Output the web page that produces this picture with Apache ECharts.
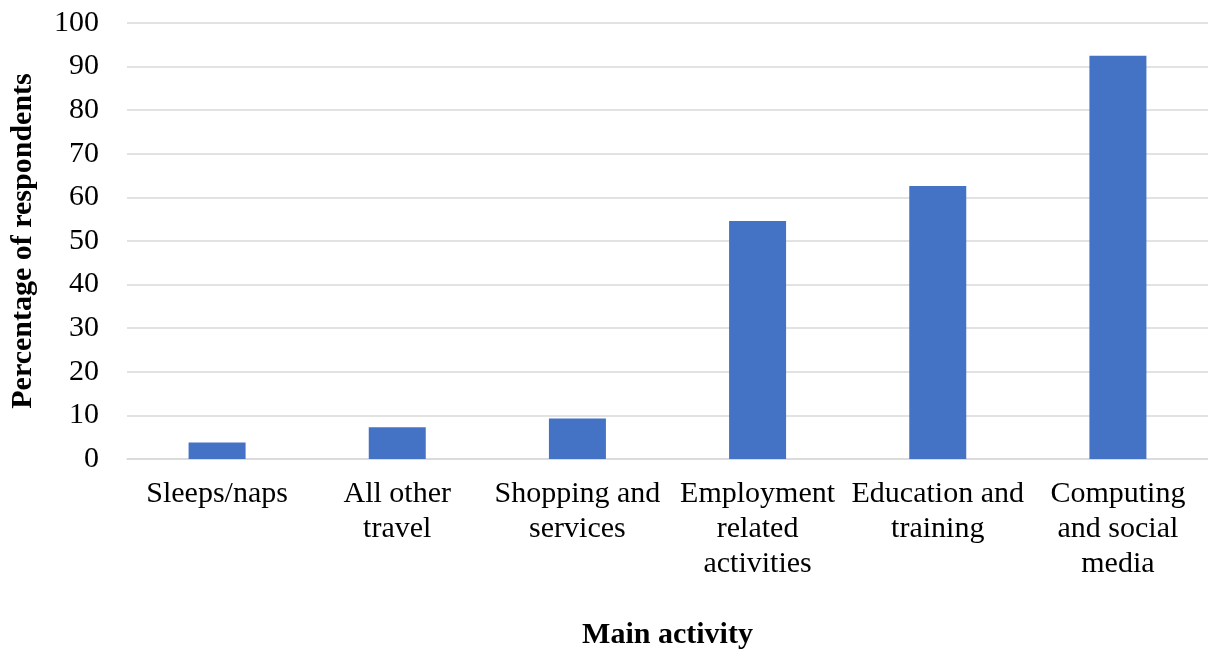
<!DOCTYPE html>
<html><head><meta charset="utf-8">
<script src="https://cdn.jsdelivr.net/npm/echarts@6/dist/echarts.min.js"></script>
<style>html,body{margin:0;padding:0;background:#fff}#c{width:1208px;height:655px}</style>
</head><body><div id="c"></div>
<script>
const categories = ["Sleeps/naps", "All other\ntravel", "Shopping and\nservices", "Employment\nrelated\nactivities", "Education and\ntraining", "Computing\nand social\nmedia"];
const values = [3.8, 7.3, 9.3, 54.6, 62.6, 92.5];
const yTicks = {min: 0, max: 100, interval: 10};
const FONT = "Liberation Serif";
const chart = echarts.init(document.getElementById('c'), null, {renderer: 'canvas'});
chart.setOption({
  animation: false,
  grid: {left: 123, right: -1, top: 23, bottom: 193},
  xAxis: {
    type: 'category', data: categories,
    name: 'Main activity', nameLocation: 'middle', nameGap: 161,
    nameTextStyle: {fontFamily: FONT, fontWeight: 'bold', fontSize: 30, color: '#000'},
    axisLine: {lineStyle: {color: '#d9d9d9', width: 1.5}},
    axisTick: {show: false},
    axisLabel: {fontFamily: FONT, fontSize: 30, color: '#000', margin: 18, lineHeight: 35, interval: 0}
  },
  yAxis: {
    type: 'value', min: yTicks.min, max: yTicks.max, interval: yTicks.interval,
    name: 'Percentage of respondents', nameLocation: 'middle', nameGap: 89,
    nameTextStyle: {fontFamily: FONT, fontWeight: 'bold', fontSize: 30, color: '#000'},
    axisLine: {show: false}, axisTick: {show: false},
    axisLabel: {fontFamily: FONT, fontSize: 30, color: '#000', margin: 28},
    splitLine: {lineStyle: {color: '#d9d9d9', width: 1.5}}
  },
  series: [{type: 'bar', data: values, barWidth: 57, itemStyle: {color: '#4472c4'}}]
});
</script></body></html>
